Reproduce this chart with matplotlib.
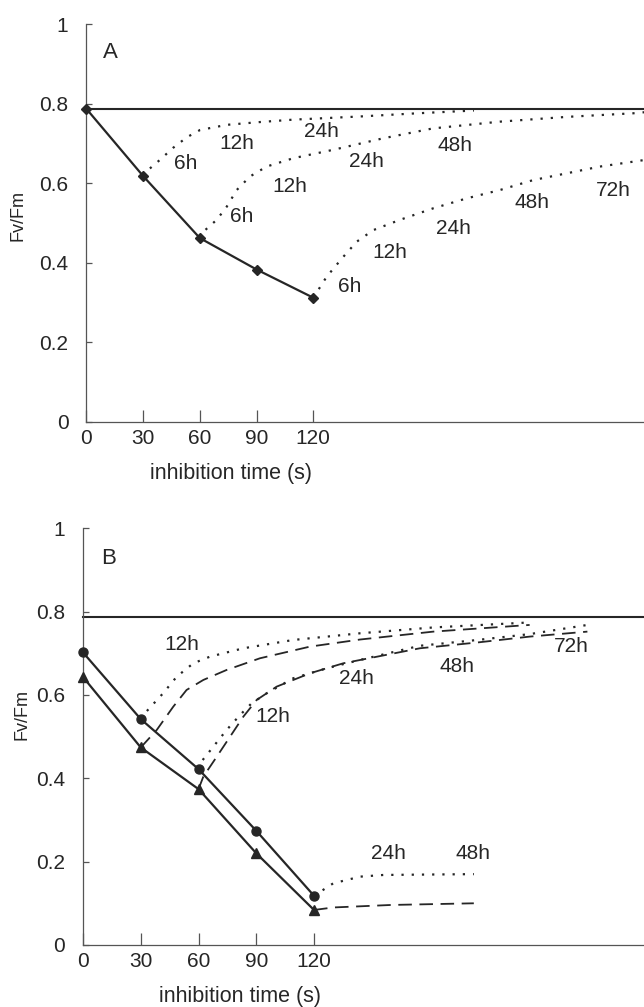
import matplotlib
matplotlib.use("Agg")
import matplotlib.pyplot as plt

plt.rcParams["font.family"] = ["Liberation Sans", "DejaVu Sans"]

INK = "#262626"
AXC = "#555555"

# inhibition times (s)
t_inh = [0, 30, 60, 90, 120]
ref_level = 0.787

# ---- panel A ----
a_main = [0.787, 0.618, 0.462, 0.383, 0.312]

a_rec1_x = [30, 32.5, 38.9, 45.8, 53.2, 60.1, 74.3, 91.8, 109.3, 144.7, 175, 205]
a_rec1_y = [0.618, 0.633, 0.659, 0.689, 0.716, 0.734, 0.747, 0.754, 0.760, 0.768, 0.776, 0.783]
a_rec2_x = [60, 61.8, 68.9, 74.2, 79.5, 86.5, 95.3, 109.4, 130.4, 156.9, 183.3, 218.8, 254.2, 289.2, 296]
a_rec2_y = [0.462, 0.478, 0.508, 0.541, 0.583, 0.617, 0.642, 0.663, 0.684, 0.713, 0.738, 0.755, 0.767, 0.776, 0.779]
a_rec3_x = [120, 121.5, 127.1, 135.9, 143, 151.7, 165.9, 183.5, 201.2, 218.8, 236.4, 254.1, 271.7, 296]
a_rec3_y = [0.312, 0.323, 0.365, 0.415, 0.453, 0.482, 0.508, 0.537, 0.562, 0.583, 0.608, 0.625, 0.642, 0.659]

a_lab_text = ["6h", "12h", "24h",
              "6h", "12h", "24h", "48h",
              "6h", "12h", "24h", "48h", "72h"]
a_lab_x = [52.6, 79.5, 124.4,
           82.1, 107.7, 148.3, 195.0,
           139.4, 160.6, 194.1, 235.6, 278.7]
a_lab_y = [0.650, 0.700, 0.730,
           0.516, 0.591, 0.654, 0.696,
           0.340, 0.425, 0.487, 0.551, 0.583]

# ---- panel B ----
b_circ = [0.702, 0.542, 0.422, 0.274, 0.118]
b_tri = [0.643, 0.474, 0.374, 0.220, 0.084]

b_dot1_x = [30, 31.3, 41.6, 48.7, 57.3, 66, 83.3, 109.3, 143.9, 182, 232]
b_dot1_y = [0.542, 0.552, 0.604, 0.644, 0.676, 0.692, 0.712, 0.732, 0.748, 0.762, 0.774]
b_dash1_x = [30, 38.3, 46.9, 53.8, 62.5, 74.6, 91.9, 117.9, 143.9, 182, 232]
b_dash1_y = [0.474, 0.516, 0.572, 0.612, 0.636, 0.660, 0.688, 0.716, 0.733, 0.752, 0.768]
b_dot2_x = [60, 60.8, 67.7, 74.6, 81.6, 87.6, 95.4, 109.2, 126.6, 143.9, 175, 205, 232, 262]
b_dot2_y = [0.422, 0.436, 0.476, 0.516, 0.552, 0.580, 0.604, 0.640, 0.664, 0.684, 0.718, 0.732, 0.746, 0.768]
b_dash2_x = [60, 62.5, 69.5, 76.4, 83.3, 90.2, 100.6, 117.9, 135.2, 175, 205, 232, 262]
b_dash2_y = [0.374, 0.404, 0.452, 0.500, 0.548, 0.588, 0.620, 0.652, 0.676, 0.712, 0.726, 0.740, 0.752]
b_dot3_x = [120, 130, 144, 156, 203]
b_dot3_y = [0.118, 0.148, 0.164, 0.168, 0.170]
b_dash3_x = [120, 130, 160, 203]
b_dash3_y = [0.084, 0.090, 0.096, 0.100]

b_lab_text = ["12h", "12h", "24h", "48h", "72h", "24h", "48h"]
b_lab_x = [51.2, 98.8, 142.2, 194.1, 253.9, 158.6, 202.4]
b_lab_y = [0.720, 0.548, 0.640, 0.668, 0.716, 0.220, 0.220]

y_ticks = [0, 0.2, 0.4, 0.6, 0.8, 1.0]
y_ticklabels = ["0", "0.2", "0.4", "0.6", "0.8", "1"]
x_ticks = [0, 30, 60, 90, 120]

DOT = (0, (1, 3.6))
DASH = (0, (7.5, 4.2))


def style_axes(ax, xmax, letter, xlab_pos, ylab_pos):
    ax.set_xlim(0, xmax)
    ax.set_ylim(0, 1)
    for s in ("top", "right"):
        ax.spines[s].set_visible(False)
    for s in ("left", "bottom"):
        ax.spines[s].set_color(AXC)
        ax.spines[s].set_linewidth(0.9)
    ax.set_xticks(x_ticks)
    ax.set_xticklabels([str(v) for v in x_ticks])
    ax.set_yticks(y_ticks)
    ax.set_yticklabels(y_ticklabels)
    ax.tick_params(axis="x", direction="in", length=9, width=0.9, color=AXC,
                   pad=5, labelsize=15, labelcolor=INK)
    ax.tick_params(axis="y", direction="in", length=4, width=0.9, color=AXC,
                   pad=13, labelsize=15, labelcolor=INK)
    ax.set_xlabel("inhibition time (s)", fontsize=15.5, color=INK, va="center")
    ax.xaxis.set_label_coords(*xlab_pos)
    ax.set_ylabel("Fv/Fm", fontsize=13, color=INK, va="center", ha="center")
    ax.yaxis.set_label_coords(*ylab_pos)
    ax.text(letter[1], letter[2], letter[0], fontsize=16, color=INK,
            ha="center", va="center")
    ax.axhline(ref_level, color=INK, lw=1.5, clip_on=False)


def main():
    fig = plt.figure(figsize=(6.44, 10.07), dpi=100)
    axA = fig.add_axes([0.1343, 0.5812, 0.8657, 0.3947])
    axB = fig.add_axes([0.1289, 0.0616, 0.8711, 0.4138])

    # panel A
    style_axes(axA, 295, ("A", 12.4, 0.928), (0.26, -0.129), (-0.123, 0.52))
    axA.plot(t_inh, a_main, color=INK, lw=1.6, marker="D", ms=5.5,
             clip_on=False, zorder=4)
    for xs, ys in [(a_rec1_x, a_rec1_y), (a_rec2_x, a_rec2_y), (a_rec3_x, a_rec3_y)]:
        axA.plot(xs, ys, color=INK, lw=1.6, ls=DOT)
    for t, x, y in zip(a_lab_text, a_lab_x, a_lab_y):
        axA.text(x, y, t, fontsize=15, color=INK, ha="center", va="center")

    # panel B
    style_axes(axB, 291.4, ("B", 13.1, 0.928), (0.28, -0.124), (-0.109, 0.552))
    axB.plot(t_inh, b_circ, color=INK, lw=1.6, marker="o", ms=6.5,
             clip_on=False, zorder=4)
    axB.plot(t_inh, b_tri, color=INK, lw=1.6, marker="^", ms=6.5,
             clip_on=False, zorder=4)
    for xs, ys in [(b_dot1_x, b_dot1_y), (b_dot2_x, b_dot2_y), (b_dot3_x, b_dot3_y)]:
        axB.plot(xs, ys, color=INK, lw=1.6, ls=DOT)
    for xs, ys in [(b_dash1_x, b_dash1_y), (b_dash2_x, b_dash2_y), (b_dash3_x, b_dash3_y)]:
        axB.plot(xs, ys, color=INK, lw=1.3, ls=DASH)
    for t, x, y in zip(b_lab_text, b_lab_x, b_lab_y):
        axB.text(x, y, t, fontsize=15, color=INK, ha="center", va="center")

    fig.savefig("out.png", dpi=100, facecolor="white")
    plt.close(fig)


if __name__ == "__main__":
    main()
